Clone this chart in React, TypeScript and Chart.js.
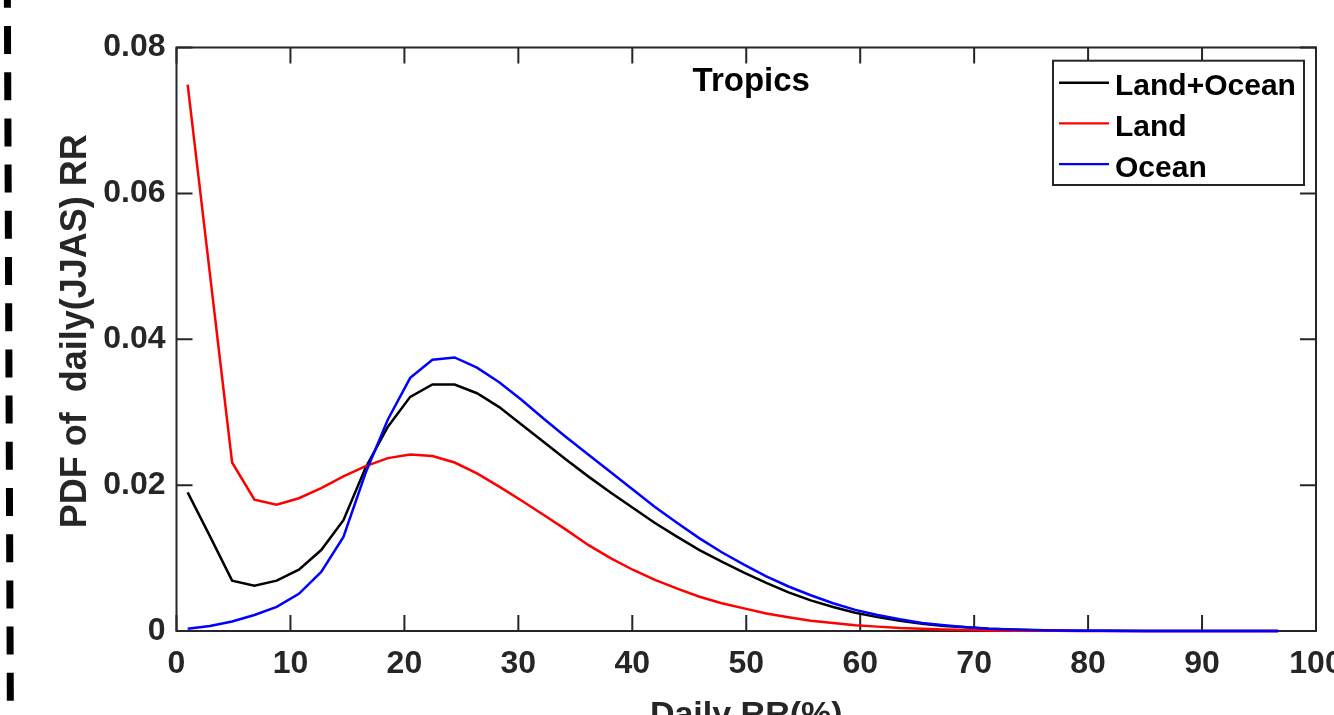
import React, { useEffect, useRef } from "react";
import { Chart, registerables } from "chart.js";

Chart.register(...registerables);

// Bin centres of daily RR (%)
const rrBins = [
  0.98, 2.93, 4.88, 6.84, 8.79, 10.74, 12.7, 14.65, 16.6, 18.55,
  20.51, 22.46, 24.41, 26.37, 28.32, 30.27, 32.23, 34.18, 36.13, 38.09,
  40.04, 41.99, 43.95, 45.9, 47.85, 49.8, 51.76, 53.71, 55.66, 57.62,
  59.57, 61.52, 63.48, 65.43, 67.38, 69.34, 71.29, 73.24, 75.2, 77.15,
  79.1, 81.05, 83.01, 84.96, 86.91, 88.87, 90.82, 92.77, 94.73, 96.68,
];

const landOcean = [
  0.019, 0.013, 0.0069, 0.0062, 0.0069, 0.0084, 0.0111, 0.0152, 0.0224, 0.028,
  0.0321, 0.0338, 0.0338, 0.0326, 0.0307, 0.0283, 0.0259, 0.0235, 0.0212, 0.019,
  0.0169, 0.0148, 0.0129, 0.0111, 0.0095, 0.008, 0.0066, 0.0053, 0.0042, 0.0033,
  0.0025, 0.0019, 0.0014, 0.001, 0.0007, 0.0005, 0.0003, 0.0002, 0.00013, 0.00008,
  0.00005, 0.00003, 0.00002, 0.00001, 0.00001, 0, 0, 0, 0, 0,
];

const land = [
  0.0749, 0.049, 0.0231, 0.018, 0.0173, 0.0182, 0.0196, 0.0212, 0.0226, 0.0237,
  0.0242, 0.024, 0.0231, 0.0216, 0.0198, 0.0179, 0.0159, 0.0139, 0.0118, 0.01,
  0.0084, 0.007, 0.0058, 0.0047, 0.0038, 0.0031, 0.0024, 0.0019, 0.0014, 0.0011,
  0.0008, 0.0006, 0.0004, 0.0003, 0.0002, 0.00013, 0.00008, 0.00005, 0.00003, 0.00002,
  0.00001, 0.00001, 0, 0, 0, 0, 0, 0, 0, 0,
];

const ocean = [
  0.0003, 0.0007, 0.0013, 0.0022, 0.0033, 0.0051, 0.0081, 0.0129, 0.0217, 0.029,
  0.0347, 0.0372, 0.0375, 0.0361, 0.0341, 0.0317, 0.0291, 0.0266, 0.0242, 0.0218,
  0.0194, 0.017, 0.0148, 0.0127, 0.0108, 0.0091, 0.0075, 0.0061, 0.0049, 0.0038,
  0.0029, 0.0022, 0.0016, 0.0011, 0.0008, 0.0005, 0.0003, 0.0002, 0.00012, 0.00007,
  0.00004, 0.00002, 0.00001, 0.00001, 0, 0, 0, 0, 0, 0,
];

const seriesLabels = ["Land+Ocean", "Land", "Ocean"];
const seriesColors = ["#000000", "#ff0000", "#0000ff"];
const xTicks = [0, 10, 20, 30, 40, 50, 60, 70, 80, 90, 100];
const yTicks = [0, 0.02, 0.04, 0.06, 0.08];
const panelTitle = "Tropics";
const xTitle = "Daily RR(%)";
const yTitle = "PDF of  daily(JJAS) RR";

const FONT = '"Liberation Sans", Arial, Helvetica, sans-serif';
const AXIS_COLOR = "#262626";
const W = 1334;
const H = 740;
const TICK_LEN = 16;

const framePlugin = {
  id: "matlabFrame",
  beforeDatasetsDraw(chart: any) {
    const { ctx, chartArea, scales } = chart;
    const { left, right, top, bottom } = chartArea;
    ctx.save();
    ctx.strokeStyle = AXIS_COLOR;
    ctx.lineWidth = 2;
    ctx.strokeRect(left, top, right - left, bottom - top);
    ctx.beginPath();
    for (const t of xTicks) {
      const px = scales.x.getPixelForValue(t);
      ctx.moveTo(px, bottom);
      ctx.lineTo(px, bottom - TICK_LEN);
      ctx.moveTo(px, top);
      ctx.lineTo(px, top + TICK_LEN);
    }
    for (const t of yTicks) {
      const py = scales.y.getPixelForValue(t);
      ctx.moveTo(left, py);
      ctx.lineTo(left + TICK_LEN, py);
      ctx.moveTo(right, py);
      ctx.lineTo(right - TICK_LEN, py);
    }
    ctx.stroke();
    ctx.restore();
  },
  afterDraw(chart: any) {
    const { ctx, chartArea } = chart;
    const { left, right, top, bottom } = chartArea;
    ctx.save();
    // y-axis label (rotated)
    ctx.fillStyle = AXIS_COLOR;
    ctx.font = `bold 36px ${FONT}`;
    ctx.textAlign = "center";
    ctx.textBaseline = "middle";
    ctx.save();
    ctx.translate(76, (top + bottom) / 2 - 8);
    ctx.rotate(-Math.PI / 2);
    ctx.fillText(yTitle, 0, 0);
    ctx.restore();

    // panel title inside the axes
    ctx.fillStyle = "#000000";
    ctx.font = `bold 33px ${FONT}`;
    ctx.textAlign = "center";
    ctx.textBaseline = "alphabetic";
    ctx.fillText(panelTitle, (left + right) / 2 + 5, top + 43);

    // legend box
    const bx = right - 263;
    const by = top + 13.2;
    const bw = 251;
    const bh = 124.3;
    ctx.fillStyle = "#ffffff";
    ctx.fillRect(bx, by, bw, bh);
    ctx.strokeStyle = AXIS_COLOR;
    ctx.lineWidth = 2;
    ctx.strokeRect(bx, by, bw, bh);
    ctx.font = `bold 30px ${FONT}`;
    ctx.textAlign = "left";
    chart.data.datasets.forEach((ds: any, i: number) => {
      const ly = by + 22 + i * 40.7;
      ctx.strokeStyle = ds.borderColor;
      ctx.lineWidth = 2.4;
      ctx.beginPath();
      ctx.moveTo(bx + 6, ly);
      ctx.lineTo(bx + 56, ly);
      ctx.stroke();
      ctx.fillStyle = "#000000";
      ctx.fillText(ds.label, bx + 62, ly + 12.5);
    });

    // dashed separator on the far left
    ctx.strokeStyle = "#000000";
    ctx.lineWidth = 7;
    ctx.setLineDash([28, 18.2]);
    ctx.beginPath();
    ctx.moveTo(7.3, -20.2);
    ctx.lineTo(10.5, H);
    ctx.stroke();
    ctx.restore();
  },
};

export default function App() {
  const canvasRef = useRef<HTMLCanvasElement | null>(null);

  useEffect(() => {
    if (!canvasRef.current) return;
    const allSeries = [landOcean, land, ocean];
    const chart = new Chart(canvasRef.current, {
      type: "line",
      data: {
        datasets: allSeries.map((vals, i) => ({
          label: seriesLabels[i],
          data: rrBins.map((x, j) => ({ x, y: vals[j] })),
          borderColor: seriesColors[i],
          backgroundColor: seriesColors[i],
          borderWidth: 2.5,
          pointRadius: 0,
          tension: 0,
          fill: false,
          order: 2 - i,
          clip: 8,
        })),
      },
      options: {
        responsive: false,
        animation: false,
        events: [],
        layout: { padding: { top: 47.5, right: 18, left: 0, bottom: 0 } },
        plugins: {
          legend: { display: false },
          title: { display: false },
          tooltip: { enabled: false },
        },
        scales: {
          x: {
            type: "linear",
            min: 0,
            max: 100,
            grid: { display: false, drawTicks: false },
            border: { display: false },
            ticks: {
              stepSize: 10,
              autoSkip: false,
              maxRotation: 0,
              padding: 14,
              color: AXIS_COLOR,
              font: { family: FONT, size: 32, weight: "bold" },
            },
            title: {
              display: true,
              text: xTitle,
              color: AXIS_COLOR,
              font: { family: FONT, size: 34, weight: "bold" },
              padding: { top: 0, bottom: 4 },
            },
            afterFit: (s: any) => {
              s.height = H - 631;
              s.paddingLeft = 0;
              s.paddingRight = 0;
            },
          },
          y: {
            type: "linear",
            min: 0,
            max: 0.08,
            grid: { display: false, drawTicks: false },
            border: { display: false },
            ticks: {
              stepSize: 0.02,
              padding: 11,
              color: AXIS_COLOR,
              font: { family: FONT, size: 32, weight: "bold" },
              callback: (v: any) => (Number(v) === 0 ? "0" : Number(v).toFixed(2)),
            },
            title: { display: false, text: yTitle },
            afterFit: (s: any) => {
              s.width = 176.5;
              s.paddingTop = 0;
              s.paddingBottom = 0;
            },
          },
        },
      },
      plugins: [framePlugin],
    });
    return () => chart.destroy();
  }, []);

  return (
    <div style={{ position: "absolute", left: 0, top: 0, width: W, height: H, background: "#ffffff" }}>
      <canvas ref={canvasRef} width={W} height={H} style={{ display: "block" }} />
    </div>
  );
}
